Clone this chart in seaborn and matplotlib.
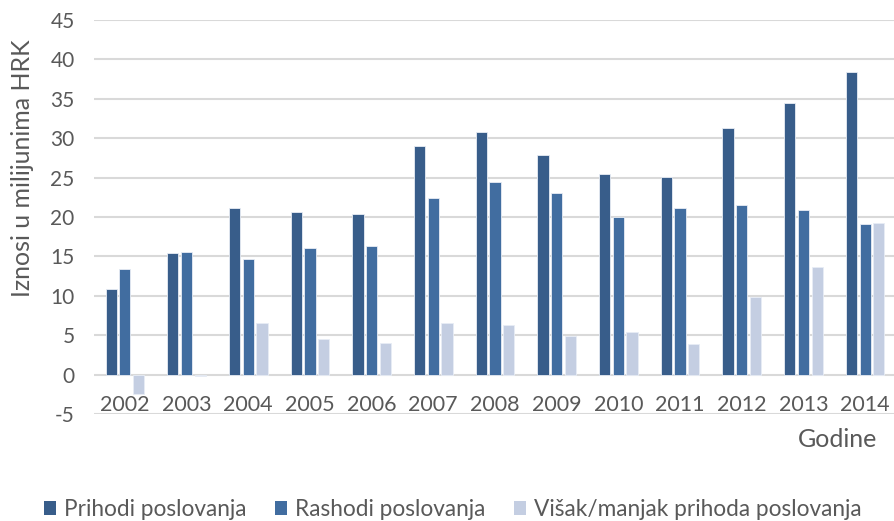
import matplotlib
matplotlib.use("Agg")
import matplotlib.pyplot as plt
import matplotlib.patches as mpatches
import seaborn as sns
import pandas as pd

# Yearly operating figures, in millions of HRK
godine = ["2002", "2003", "2004", "2005", "2006", "2007", "2008",
          "2009", "2010", "2011", "2012", "2013", "2014"]
prihodi = [10.85, 15.4, 21.2, 20.6, 20.4, 28.95, 30.85, 27.9, 25.5, 25.1, 31.3, 34.5, 38.35]
rashodi = [13.4, 15.6, 14.7, 16.1, 16.3, 22.4, 24.5, 23.0, 20.0, 21.2, 21.5, 20.9, 19.15]
visak = [-2.5, -0.2, 6.6, 4.55, 4.05, 6.6, 6.3, 4.9, 5.45, 3.9, 9.8, 13.6, 19.2]

serije = ["Prihodi poslovanja", "Rashodi poslovanja", "Višak/manjak prihoda poslovanja"]
boje = ["#385D8A", "#416DA0", "#C4CEE2"]
y_ticks = [-5, 0, 5, 10, 15, 20, 25, 30, 35, 40, 45]

df = pd.DataFrame({
    "Godina": godine * 3,
    "Serija": [serije[0]] * len(godine) + [serije[1]] * len(godine) + [serije[2]] * len(godine),
    "Iznos": prihodi + rashodi + visak,
})

sns.set_theme(style="white")
plt.rcParams["font.family"] = ["Lato", "DejaVu Sans"]
tekst = "#595959"

fig = plt.figure(figsize=(8.95, 5.21), dpi=100)
ax = fig.add_axes([94 / 895, 107 / 521, 802 / 895, 394 / 521])

sns.barplot(data=df, x="Godina", y="Iznos", hue="Serija", hue_order=serije,
            palette=boje, width=0.666, gap=0.18, edgecolor="#E8EDF5",
            linewidth=0.6, saturation=1, legend=False, ax=ax)

ax.set_ylim(-5, 45)
ax.set_xlim(-0.5, len(godine) - 0.5)
ax.set_yticks(y_ticks)
ax.set_yticklabels([str(v) for v in y_ticks])
ax.yaxis.grid(True, color="#D9D9D9", linewidth=1.5)
ax.set_axisbelow(True)
for s in ax.spines.values():
    s.set_visible(False)

ax.tick_params(axis="y", length=0, labelsize=15, labelcolor=tekst, pad=14)
ax.tick_params(axis="x", length=0, labelsize=15.5, labelcolor=tekst, pad=-14)

ax.set_ylabel("Iznosi u milijunima HRK", fontsize=18, color=tekst)
ax.yaxis.set_label_coords(-0.075, 0.625)
ax.set_xlabel("Godine", fontsize=18, color=tekst, loc="right")
ax.xaxis.set_label_coords((877 - 94) / 802, -0.035)

handles = [mpatches.Patch(facecolor=c, edgecolor="none") for c in boje]
fig.legend(handles, serije, loc="center", bbox_to_anchor=(0.506, 0.022), ncol=3,
           frameon=False, fontsize=16.3, labelcolor=tekst, handlelength=0.55,
           handleheight=0.55, handletextpad=0.35, columnspacing=1.25)

fig.savefig("out.png", dpi=100)
